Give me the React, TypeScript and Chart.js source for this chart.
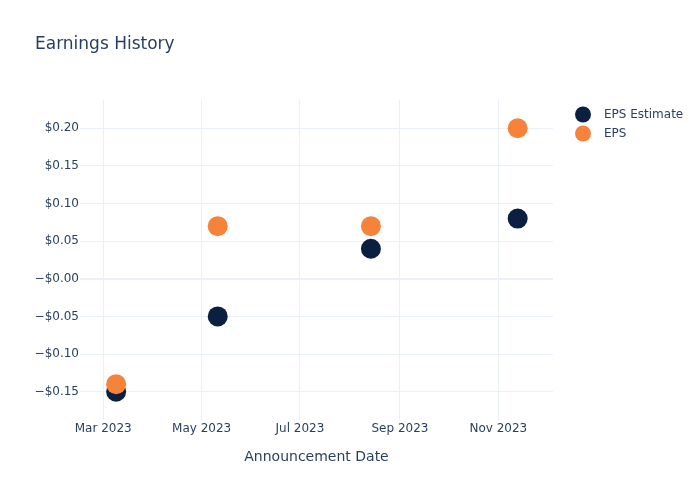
import React, { useEffect, useRef } from "react";
import { Chart, registerables } from "chart.js";

Chart.register(...registerables);

const FONT = "'DejaVu Sans', Verdana, sans-serif";
const TEXT = "#2a3f5f";
const GRID = "#ebf0f8";

const seriesNames = ["EPS Estimate", "EPS"];
const seriesColors = ["#0b1f41", "#f7833a"];
const announcementDates = ["2023-03-09", "2023-05-11", "2023-08-14", "2023-11-13"];
const epsEstimate = [-0.15, -0.05, 0.04, 0.08];
const epsActual = [-0.14, 0.07, 0.07, 0.2];

const xTickDates = ["2023-03-01", "2023-05-01", "2023-07-01", "2023-09-01", "2023-11-01"];
const xTickLabels = ["Mar 2023", "May 2023", "Jul 2023", "Sep 2023", "Nov 2023"];
const yTickValues = [-0.15, -0.1, -0.05, 0, 0.05, 0.1, 0.15, 0.2];
const yTickLabels = ["−$0.15", "−$0.10", "−$0.05", "−$0.00", "$0.05", "$0.10", "$0.15", "$0.20"];
const xRange = ["2023-02-14T14:00:00Z", "2023-12-04T22:00:00Z"];
const yRange = [-0.1876, 0.2376];

const ts = (s: string) => new Date(s.length === 10 ? s + "T00:00:00Z" : s).getTime();

export default function App() {
  const ref = useRef<HTMLCanvasElement>(null);
  useEffect(() => {
    if (!ref.current) return;
    const overlay = {
      id: "overlay",
      afterDraw(chart: any) {
        const ctx = chart.ctx;
        ctx.save();
        ctx.fillStyle = TEXT;
        ctx.font = `17px ${FONT}`;
        ctx.textAlign = "left";
        ctx.textBaseline = "middle";
        ctx.fillText("Earnings History", 35, 45);
        ctx.font = `12px ${FONT}`;
        seriesNames.forEach((name, i) => {
          const y = 114.5 + i * 19;
          ctx.beginPath();
          ctx.fillStyle = seriesColors[i];
          ctx.arc(583, y, 8, 0, Math.PI * 2);
          ctx.fill();
          ctx.fillStyle = TEXT;
          ctx.fillText(name, 604, y);
        });
        ctx.restore();
      },
    };
    const chart = new Chart(ref.current, {
      type: "scatter",
      data: {
        datasets: [
          {
            label: seriesNames[0],
            data: announcementDates.map((d, i) => ({ x: ts(d), y: epsEstimate[i] })),
            backgroundColor: seriesColors[0],
            borderWidth: 0,
            pointRadius: 10,
            order: 1,
          },
          {
            label: seriesNames[1],
            data: announcementDates.map((d, i) => ({ x: ts(d), y: epsActual[i] })),
            backgroundColor: seriesColors[1],
            borderWidth: 0,
            pointRadius: 10,
            order: 0,
          },
        ],
      },
      options: {
        responsive: false,
        animation: false,
        layout: { padding: { left: 0, right: 147, top: 100, bottom: 0 } },
        plugins: { legend: { display: false }, title: { display: false }, tooltip: { enabled: false } },
        scales: {
          x: {
            type: "linear",
            min: ts(xRange[0]),
            max: ts(xRange[1]),
            border: { display: false },
            grid: { color: GRID, lineWidth: 1, drawTicks: false },
            afterBuildTicks: (s: any) => {
              s.ticks = xTickDates.map((d) => ({ value: ts(d) }));
            },
            afterFit: (s: any) => {
              s.height = 80;
            },
            ticks: {
              autoSkip: false,
              maxRotation: 0,
              padding: 2,
              color: TEXT,
              font: { family: FONT, size: 12 },
              callback: (_v: any, i: number) => xTickLabels[i],
            },
            title: {
              display: true,
              text: "Announcement Date",
              color: TEXT,
              font: { family: FONT, size: 14 },
              padding: { top: 0, bottom: 34.6 },
            },
          },
          y: {
            type: "linear",
            min: yRange[0],
            max: yRange[1],
            border: { display: false },
            grid: {
              color: GRID,
              drawTicks: false,
              lineWidth: (c: any) => (c.tick && Math.abs(c.tick.value) < 1e-9 ? 2 : 1),
            },
            afterBuildTicks: (s: any) => {
              s.ticks = yTickValues.map((v) => ({ value: v }));
            },
            afterFit: (s: any) => {
              s.width = 80;
            },
            ticks: {
              padding: 1,
              color: TEXT,
              font: { family: FONT, size: 12 },
              callback: (_v: any, i: number) => yTickLabels[i],
            },
          },
        },
      },
      plugins: [overlay],
    } as any);
    return () => chart.destroy();
  }, []);
  return (
    <div style={{ position: "fixed", left: 0, top: 0, width: 700, height: 500, background: "#fff" }}>
      <canvas ref={ref} width={700} height={500} style={{ width: 700, height: 500 }} />
    </div>
  );
}
